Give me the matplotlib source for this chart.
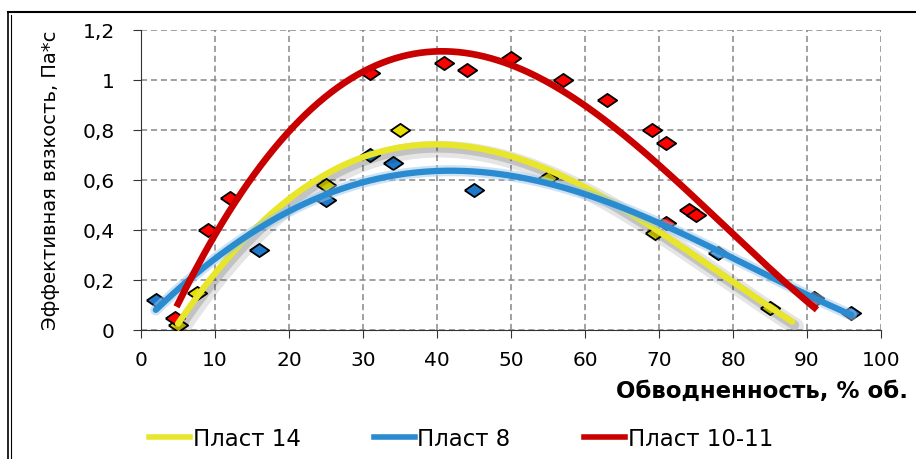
import numpy as np
import matplotlib.pyplot as plt
import matplotlib.patheffects as pe
from matplotlib.lines import Line2D

plt.rcParams['font.family'] = ['DejaVu Sans']

## data

# measured points
x14 = [5, 7.5, 25, 35, 55, 69.5, 85]
y14 = [0.02, 0.15, 0.58, 0.80, 0.61, 0.39, 0.09]

x8 = [2, 16, 25, 31, 34, 45, 78, 91, 96]
y8 = [0.12, 0.32, 0.52, 0.70, 0.67, 0.56, 0.31, 0.13, 0.07]

x1011 = [4.6, 9, 12, 31, 41, 44, 50, 57, 63, 69, 71, 71, 74, 75, 91]
y1011 = [0.05, 0.40, 0.53, 1.03, 1.07, 1.04, 1.09, 1.00, 0.92, 0.80, 0.75, 0.43, 0.48, 0.46, 0.12]

# trend lines
tx14 = [5, 10, 20, 30, 40, 50, 60, 70, 80, 88]
ty14 = [0.03, 0.22, 0.52, 0.70, 0.745, 0.69, 0.57, 0.39, 0.20, 0.03]

tx8 = [2, 10, 20, 30, 40, 50, 60, 70, 80, 90, 96]
ty8 = [0.085, 0.27, 0.49, 0.595, 0.627, 0.607, 0.55, 0.44, 0.28, 0.135, 0.065]

tx1011 = [5, 10, 20, 30, 40, 45, 50, 60, 70, 80, 90, 91]
ty1011 = [0.10, 0.39, 0.79, 1.03, 1.11, 1.11, 1.07, 0.88, 0.67, 0.38, 0.12, 0.085]

labels = ['Пласт 14', 'Пласт 8', 'Пласт 10-11']
xticks = [0, 10, 20, 30, 40, 50, 60, 70, 80, 90, 100]
yticks = [0, 0.2, 0.4, 0.6, 0.8, 1.0, 1.2]
yticklabels = ['0', '0,2', '0,4', '0,6', '0,8', '1', '1,2']

c_yel_line = '#e8e62a'
c_yel_mark = '#e6e000'
c_blu_line = '#2b8bd0'
c_blu_mark = '#1f78c8'
c_red_line = '#c80000'
c_red_mark = '#ff0000'

diamond = [(-1, 0), (0, 0.68), (1, 0), (0, -0.68), (-1, 0)]


def smooth(x, y, deg=4):
	# smooth curve through the points
	p = np.polyfit(x, y, deg)
	xx = np.linspace(x[0], x[-1], 300)
	return xx, np.polyval(p, xx)


fig = plt.figure(figsize=(9.16, 4.59), dpi=100)
ax = fig.add_axes([141/916, 129/459, 740/916, 300/459])

# frame around the chart
fig.add_artist(Line2D([8/916, 8/916], [0, 1-12/459], color='k', lw=1.2))
fig.add_artist(Line2D([11/916, 11/916], [0, 1-15/459], color='k', lw=0.8))
fig.add_artist(Line2D([8/916, 1], [1-12/459, 1-12/459], color='k', lw=1.5))

ms = 14
ax.plot(x14, y14, ls='none', marker=diamond, ms=ms, mfc=c_yel_mark, mec='k', mew=1.3, zorder=3)
ax.plot(x8, y8, ls='none', marker=diamond, ms=ms, mfc=c_blu_mark, mec='k', mew=1.3, zorder=3)
ax.plot(x1011, y1011, ls='none', marker=diamond, ms=ms, mfc=c_red_mark, mec='k', mew=1.3, zorder=3)

shadow = [pe.SimpleLineShadow(offset=(2.5, -3.5), shadow_color='k', alpha=0.1, linewidth=12),
	pe.SimpleLineShadow(offset=(1.5, -2.5), shadow_color='k', alpha=0.15, linewidth=7),
	pe.Normal()]
glow = [pe.Stroke(linewidth=8, foreground='#9cc8ec', alpha=0.5), pe.Normal()]

xx, yy = smooth(tx14, ty14)
ax.plot(xx, yy, color=c_yel_line, lw=4.5, solid_capstyle='round', path_effects=shadow, zorder=4)
xx, yy = smooth(tx8, ty8)
ax.plot(xx, yy, color=c_blu_line, lw=4.5, solid_capstyle='round', path_effects=glow, zorder=4)
xx, yy = smooth(tx1011, ty1011)
ax.plot(xx, yy, color=c_red_line, lw=4.8, zorder=5)

ax.set_xlim(0, 100)
ax.set_ylim(0, 1.2)
ax.set_xticks(xticks)
ax.set_yticks(yticks)
ax.set_yticklabels(yticklabels)
ax.tick_params(labelsize=14.5, length=6, color='#333333')
ax.tick_params(axis='y', pad=13)
ax.tick_params(axis='x', pad=9)
ax.grid(True, color='#888888', ls=(0, (4, 2.5)), lw=1.1)
ax.set_axisbelow(True)
for s in ['top', 'right']:
	ax.spines[s].set_visible(False)
ax.spines['left'].set_color('#333333')
ax.spines['bottom'].set_color('#333333')
ax.spines['bottom'].set_linestyle((0, (2, 1)))

ax.set_ylabel('Эффективная вязкость, Па*с', fontsize=14, labelpad=16)
fig.text(616/916, 1-391/459, 'Обводненность, % об.', fontsize=16.5, fontweight='bold', va='center', ha='left')

handles = [Line2D([], [], color=c_yel_line, lw=4),
	Line2D([], [], color=c_blu_line, lw=4),
	Line2D([], [], color=c_red_line, lw=4)]
leg = fig.legend(handles, labels, loc='center left', bbox_to_anchor=(140/916, 1-439/459), ncol=3, frameon=False,
	fontsize=16.5, handlelength=1.8, handletextpad=0.1, columnspacing=3.2, borderaxespad=0)

fig.savefig('out.png', dpi=100)
